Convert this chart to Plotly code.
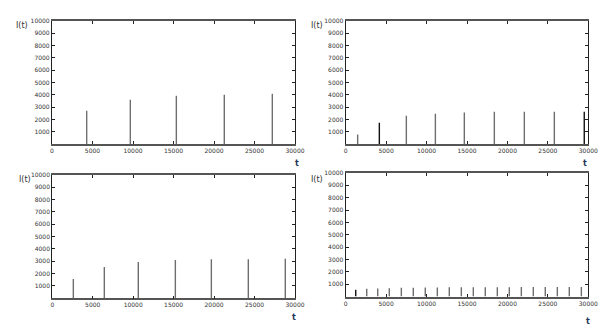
import plotly.graph_objects as go

# ---- data ----
t1 = [4280, 9670, 15350, 21270, 27200]
i1 = [2700, 3600, 3920, 4000, 4080]

t2 = [1480, 4160, 7500, 11090, 14670, 18380, 22090, 25800, 29500]
i2 = [780, 1730, 2300, 2460, 2570, 2620, 2620, 2620, 2620]

t3 = [2600, 6430, 10630, 15210, 19660, 24230, 28800]
i3 = [1560, 2530, 2940, 3100, 3150, 3150, 3200]

t4 = [1240, 2600, 3960, 5390, 6880, 8360, 9840, 11330, 12810, 14300,
      15780, 17260, 18750, 20230, 21720, 23200, 24680, 26170, 27650, 29140]
i4 = [540, 620, 650, 675, 700, 710, 720, 730, 740, 745,
      750, 750, 755, 755, 760, 760, 760, 760, 760, 760]

x_ticks = [0, 5000, 10000, 15000, 20000, 25000, 30000]
y_ticks = [1000, 2000, 3000, 4000, 5000, 6000, 7000, 8000, 9000, 10000]

panels = [(t1, i1, set()), (t2, i2, {1, 8}), (t3, i3, set()), (t4, i4, {0})]

W, H = 607, 326
# pixel boxes: (left, right, top, bottom)
boxes = [(52, 295, 21, 144), (345.7, 588.3, 21, 144),
         (52.3, 295, 174.7, 298.3), (345.7, 588.3, 173, 296.5)]
t_label_pos = [(296.5, 163), (585, 163), (294, 317), (588, 321)]
i_label_pos = [(29, 26), (324, 26), (32, 179), (324, 179)]

fig = go.Figure()
for k, ((tx, iy, dark), (l, r, tp, b)) in enumerate(zip(panels, boxes)):
    n = "" if k == 0 else str(k + 1)
    for dk in (False, True):
        xs, ys = [], []
        for j, (x, y) in enumerate(zip(tx, iy)):
            if (j in dark) == dk:
                xs += [x, x, None]
                ys += [0, y, None]
        if xs:
            fig.add_trace(go.Scatter(
                x=xs, y=ys, mode="lines", xaxis="x" + n, yaxis="y" + n,
                line=dict(color="#111111" if dk else "#6e6e6e", width=1.4),
                showlegend=False, hoverinfo="skip"))
    ax = dict(domain=[l / W, r / W], range=[0, 30000], tickvals=x_ticks,
              ticktext=[str(v) for v in x_ticks], showgrid=False, zeroline=False,
              showline=True, linecolor="#555555", linewidth=1.6, mirror="allticks",
              ticks="inside", ticklen=3, tickcolor="#222222", automargin=False,
              tickfont=dict(family="DejaVu Sans", size=6, color="#333333"),
              anchor="y" + n)
    ay = dict(domain=[1 - b / H, 1 - tp / H], range=[0, 10000], tickvals=y_ticks,
              ticktext=[str(v) for v in y_ticks], showgrid=False, zeroline=False,
              showline=True, linecolor="#222222", linewidth=1.2, mirror="allticks",
              ticks="inside", ticklen=3, tickcolor="#222222", automargin=False,
              tickfont=dict(family="DejaVu Sans", size=6, color="#333333"),
              anchor="x" + n)
    fig.update_layout(**{"xaxis" + n: ax, "yaxis" + n: ay})
    ix, iyp = i_label_pos[k]
    fig.add_annotation(x=ix / W, y=1 - iyp / H, xref="paper", yref="paper",
                       xanchor="right", yanchor="middle", borderpad=0,
                       text="I(t)", showarrow=False,
                       font=dict(family="DejaVu Sans", size=8, color="#333333"))
    tx_, ty_ = t_label_pos[k]
    fig.add_annotation(x=tx_ / W, y=1 - ty_ / H, xref="paper", yref="paper",
                       xanchor="center", yanchor="middle", borderpad=0,
                       text="<b>t</b>", showarrow=False,
                       font=dict(family="DejaVu Sans", size=8, color="#223355"))

fig.update_layout(width=W, height=H, margin=dict(l=0, r=0, t=0, b=0),
                  paper_bgcolor="white", plot_bgcolor="white")
fig.write_html("out.html", config={"displayModeBar": False},
               post_script="document.body.style.margin='0';")
